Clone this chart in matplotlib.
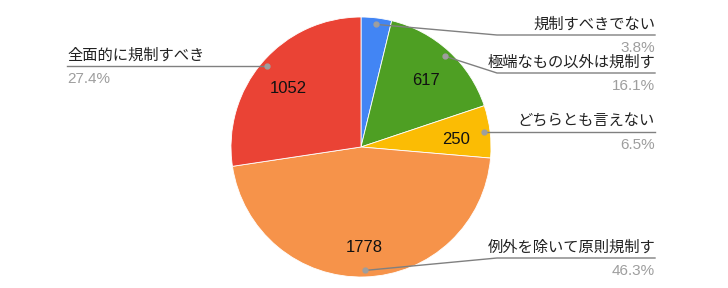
import numpy as np
import matplotlib
matplotlib.use("Agg")
import matplotlib.pyplot as plt

plt.rcParams['font.family'] = ['Liberation Sans', 'Noto Sans CJK JP', 'DejaVu Sans']

labels = ["規制すべきでない", "極端なもの以外は規制す", "どちらとも言えない",
          "例外を除いて原則規制す", "全面的に規制すべき"]
values = [146, 617, 250, 1778, 1052]
colors = ["#4285F4", "#4E9F23", "#FBBC04", "#F6934A", "#EA4335"]
show_value = [False, True, True, True, True]

# label layout (pixels in the 728x288 image)
label_y = [35, 73, 132, 258, 66]
label_side = ["right", "right", "right", "right", "left"]

W, H = 728, 288
cx, cy, R = 361, 147, 130

fig = plt.figure(figsize=(7.28, 2.88), dpi=100)
ax = fig.add_axes([(cx - R) / W, (H - cy - R) / H, 2 * R / W, 2 * R / H])

wedges, _ = ax.pie(values, colors=colors, startangle=90, counterclock=False,
                   radius=1, wedgeprops=dict(edgecolor="white", linewidth=0.6))
ax.set_xlim(-1, 1)
ax.set_ylim(-1, 1)
ax.set_aspect("equal")
ax.axis("off")

def py2d(py):
    return (cy - py) / R

def px2d(px):
    return (px - cx) / R

total = sum(values)
for w, lab, v, show, ly, side in zip(wedges, labels, values, show_value, label_y, label_side):
    ang = np.deg2rad((w.theta1 + w.theta2) / 2)
    # value inside the slice
    if show:
        ax.text(0.74 * np.cos(ang), 0.74 * np.sin(ang) - 0.03, str(v), ha="center",
                va="center", fontsize=12, color="#111111")
    # leader line
    dx, dy = 0.95 * np.cos(ang), 0.95 * np.sin(ang)
    yl = py2d(ly)
    if side == "right":
        ex, end = px2d(497), px2d(655)
        ha, tx = "right", end
    else:
        ex, end = px2d(268), px2d(67)
        ha, tx = "left", end
    if side == "right" and abs(yl - dy) < 0.03:
        xs, ys = [dx, end], [dy, dy]
        yl = dy
    elif side == "left":
        xs, ys = [dx, end], [dy, dy]
        yl = dy
    else:
        xs, ys = [dx, ex, end], [dy, yl, yl]
    ax.plot(xs, ys, color="#808080", linewidth=1, clip_on=False)
    ax.plot([dx], [dy], "o", color="#9E9E9E", markersize=3.5, clip_on=False)
    ax.text(tx, yl + 0.025, lab, ha=ha, va="bottom", fontsize=11,
            color="#222222", clip_on=False)
    ax.text(tx, yl - 0.045, f"{v / total * 100:.1f}%", ha=ha, va="top",
            fontsize=11, color="#9E9E9E", clip_on=False)

fig.savefig("out.png", dpi=100)
